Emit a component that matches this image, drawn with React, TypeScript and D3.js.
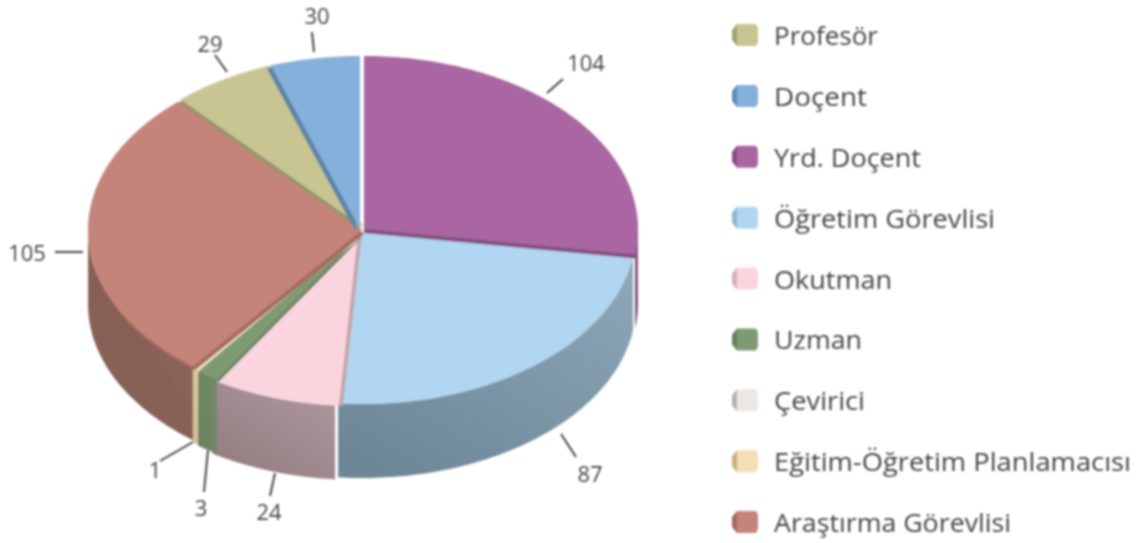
import * as d3 from "d3";

const categories = [
  "Yrd. Doçent",
  "Öğretim Görevlisi",
  "Okutman",
  "Uzman",
  "Eğitim-Öğretim Planlamacısı",
  "Araştırma Görevlisi",
  "Profesör",
  "Doçent",
];
const values = [104, 87, 24, 3, 1, 105, 29, 30];
// the drawing is a tilted pie, so slice ends do not sit at their true angles
const drawnEndDeg = [98.5, 184, 212, 216.8, 218.1, 318, 341, 360];

const legendNames = [
  "Profesör",
  "Doçent",
  "Yrd. Doçent",
  "Öğretim Görevlisi",
  "Okutman",
  "Uzman",
  "Çevirici",
  "Eğitim-Öğretim Planlamacısı",
  "Araştırma Görevlisi",
];
// measured text widths, the original face is wider than Open Sans
const legendWidths = [104, 93, 147, 221, 118, 88, 91, 357, 237];

const palette: Record<string, { top: string; wall: [string, string]; edge: string; side: string }> = {
  "Profesör": { top: "#c9c592", wall: ["#a5a278", "#8f8c66"], edge: "#97946c", side: "#a19e72" },
  "Doçent": { top: "#85b0dc", wall: ["#6d90b3", "#5c7c9c"], edge: "#5e83a6", side: "#5f88b4" },
  "Yrd. Doçent": { top: "#a966a2", wall: ["#8f5a8a", "#7f4f7b"], edge: "#84507f", side: "#854f80" },
  "Öğretim Görevlisi": { top: "#b1d6f1", wall: ["#8fa9bb", "#6d8797"], edge: "#8fafc6", side: "#8db3d0" },
  "Okutman": { top: "#fbd5de", wall: ["#b09aa0", "#937d80"], edge: "#c4a5ab", side: "#d3aeb8" },
  "Uzman": { top: "#7f9a72", wall: ["#738b68", "#6c8262"], edge: "#6a8260", side: "#678059" },
  "Çevirici": { top: "#ebe8e3", wall: ["#c9c6c2", "#bdbab6"], edge: "#c9c6c2", side: "#b5b2ad" },
  "Eğitim-Öğretim Planlamacısı": { top: "#f3dfb3", wall: ["#dcc99f", "#cdbb92"], edge: "#d6c49b", side: "#c4b083" },
  "Araştırma Görevlisi": { top: "#c5847a", wall: ["#8d665c", "#855e54"], edge: "#a56c62", side: "#a5685f" },
};

// small shift of each slice, and of the dark cut face showing behind it
const sliceShift: Record<string, [number, number]> = {
  "Yrd. Doçent": [2, -3],
  "Öğretim Görevlisi": [0, -1],
  "Okutman": [-4, 1],
  "Uzman": [0, 1],
  "Eğitim-Öğretim Planlamacısı": [0, 0],
  "Araştırma Görevlisi": [0, -2],
  "Profesör": [2, -4],
  "Doçent": [-2, -3],
};
const cutShift: Record<string, [number, number]> = {
  "Yrd. Doçent": [0, 4],
  "Öğretim Görevlisi": [0, 0],
  "Okutman": [4, 0],
  "Uzman": [2, 2],
  "Eğitim-Öğretim Planlamacısı": [0, 0],
  "Araştırma Görevlisi": [2, 4],
  "Profesör": [-2, 3],
  "Doçent": [-4, 3],
};
// degrees taken off (or added to) the ends of a wall, where it differs from its face
const wallTrim: Record<string, [number, number]> = {
  "Öğretim Görevlisi": [0, 1],
  "Okutman": [0.8, 0],
};
const paintOrder = [
  "Öğretim Görevlisi",
  "Okutman",
  "Uzman",
  "Eğitim-Öğretim Planlamacısı",
  "Araştırma Görevlisi",
  "Yrd. Doçent",
  "Profesör",
  "Doçent",
];

const leaders = [
  { text: "104", x: 586, y: 62, line: [547, 93, 563, 79] },
  { text: "87", x: 590, y: 473, line: [561, 434, 576, 457] },
  { text: "24", x: 269, y: 511, line: [275, 473, 270, 496] },
  { text: "3", x: 201, y: 507, line: [208, 450, 204, 492] },
  { text: "1", x: 155, y: 469, line: [193, 442, 160, 461] },
  { text: "105", x: 27, y: 252, line: [55, 252, 83, 252] },
  { text: "29", x: 210, y: 43, line: [215, 55, 227, 72] },
  { text: "30", x: 317, y: 15, line: [312, 32, 314, 52] },
];

const WIDTH = 1141;
const HEIGHT = 543;
const CX = 362;
const CY = 232;
const RX = 274;
const RY = 173;
const DEPTH = 74;
const FONT = "'Open Sans', sans-serif";
const INK = "#454545";

const pie = d3
  .pie<number>()
  .sort(null)
  .startAngle(0)
  .endAngle(Math.PI * 2);
const arcs = pie(values);

// true pie angle -> angle as it is seen on the tilted disc
const tilt = d3
  .scaleLinear()
  .domain([0, ...arcs.map((a) => (a.endAngle * 180) / Math.PI)])
  .range([0, ...drawnEndDeg]);

const pointAt = (deg: number): [number, number] => {
  const t = (deg * Math.PI) / 180;
  return [CX + RX * Math.sin(t), CY - RY * Math.cos(t)];
};

const sweep = (a: number, b: number) => {
  const n = Math.max(2, Math.ceil(b - a));
  return d3.range(n + 1).map((i) => a + ((b - a) * i) / n);
};

const line = d3.line();

const App = () => {
  const slices = new Map(
    categories.map((name, i) => [
      name,
      { a: tilt((arcs[i].startAngle * 180) / Math.PI), b: tilt((arcs[i].endAngle * 180) / Math.PI) },
    ])
  );

  const legendY = d3
    .scalePoint<string>()
    .domain(legendNames)
    .range([35, 522]);

  return (
    <svg
      width={WIDTH}
      height={HEIGHT}
      viewBox={`0 0 ${WIDTH} ${HEIGHT}`}
      style={{ position: "absolute", left: 0, top: 0 }}
    >
      <defs>
        <filter id="soft" x="-2%" y="-2%" width="104%" height="104%">
          <feGaussianBlur stdDeviation="0.8" />
        </filter>
        {paintOrder.map((name, i) => (
          <linearGradient key={name} id={`wall${i}`} x1="1" y1="0" x2="0.2" y2="1">
            <stop offset="0" stopColor={palette[name].wall[0]} />
            <stop offset="1" stopColor={palette[name].wall[1]} />
          </linearGradient>
        ))}
      </defs>
      <g filter="url(#soft)">
        {paintOrder.map((name, i) => {
          const s = slices.get(name)!;
          const [dx, dy] = sliceShift[name];
          const [cx, cy] = cutShift[name];
          const [trimA, extendB] = wallTrim[name] ?? [0, 0];
          const p = palette[name];
          const rim = sweep(s.a, s.b).map(pointAt);
          const face = line([[CX, CY], ...rim])! + "Z";
          // only the front half of the rim shows a wall
          const lo = Math.max(s.a + trimA, 90);
          const hi = Math.min(s.b + extendB, 270);
          const front = hi > lo ? sweep(lo, hi).map(pointAt) : [];
          const wall =
            front.length > 0
              ? line([
                  ...front,
                  ...front
                    .slice()
                    .reverse()
                    .map(([x, y]): [number, number] => [x, y + DEPTH]),
                ])! + "Z"
              : null;
          return (
            <g key={name} transform={`translate(${dx},${dy})`}>
              {wall && <path d={wall} fill={`url(#wall${i})`} />}
              <path d={face} fill={p.edge} transform={`translate(${cx},${cy})`} />
              <path d={face} fill={p.top} />
            </g>
          );
        })}
      </g>

      <g filter="url(#soft)">
        {leaders.map((d) => (
          <g key={d.text}>
            <line
              x1={d.line[0]}
              y1={d.line[1]}
              x2={d.line[2]}
              y2={d.line[3]}
              stroke={INK}
              strokeWidth={2}
            />
            <text
              x={d.x}
              y={d.y}
              textAnchor="middle"
              dominantBaseline="central"
              fontFamily={FONT}
              fontSize={22}
              fill={INK}
            >
              {d.text}
            </text>
          </g>
        ))}

        {legendNames.map((name, i) => {
          const y = legendY(name)!;
          const p = palette[name];
          const swatch = (pts: [number, number][]) =>
            line(pts.map(([px, py]): [number, number] => [732 + px, y + py]))! + "Z";
          return (
            <g key={name}>
              <path
                d={swatch([[5, -11], [24, -11], [26, -7], [26, 7], [24, 11], [5, 11]])}
                fill={p.top}
              />
              <path d={swatch([[5, -11], [0, -5], [0, 5], [5, 11]])} fill={p.side} />
              <text
                x={774}
                y={y}
                dominantBaseline="central"
                fontFamily={FONT}
                fontSize={26}
                fill={INK}
                textLength={legendWidths[i]}
                lengthAdjust="spacingAndGlyphs"
              >
                {name}
              </text>
            </g>
          );
        })}
      </g>
    </svg>
  );
};

export default App;
